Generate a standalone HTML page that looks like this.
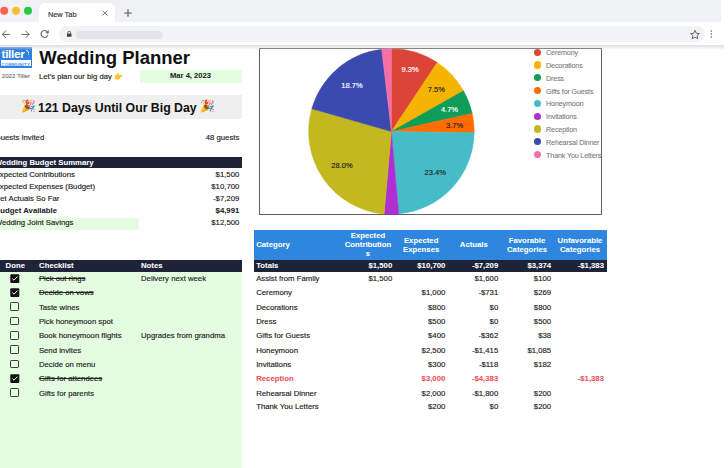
<!DOCTYPE html>
<html><head><meta charset="utf-8"><style>
html,body{margin:0;padding:0;width:728px;height:468px;overflow:hidden;background:#fff;position:relative;font-family:"Liberation Sans", sans-serif}
.t{position:absolute;line-height:0;white-space:nowrap;font-family:"Liberation Sans", sans-serif}
</style></head><body>
<div style="position:absolute;left:0px;top:0px;width:721px;height:22px;background:#eff1f3;"></div>
<svg style="position:absolute;left:0;top:0" width="40" height="22"><circle cx="4.2" cy="10.8" r="4" fill="#fe5f57"/><circle cx="16" cy="10.8" r="4" fill="#febc2e"/><circle cx="28" cy="10.8" r="4" fill="#28c840"/></svg>
<div style="position:absolute;left:39px;top:3px;width:76px;height:20px;background:#fff;border-radius:6px 6px 0 0;"></div>
<div class="t" style="left:47.9px;top:14.55px;font-size:7.4px;font-weight:400;color:#333;-webkit-text-stroke:0.15px #333;">New Tab</div>
<svg style="position:absolute;left:100px;top:8px" width="10" height="10"><path d="M2.6 2.6L7.4 7.4M7.4 2.6L2.6 7.4" stroke="#777" stroke-width="0.9"/></svg>
<svg style="position:absolute;left:122px;top:7px" width="12" height="12"><path d="M6 2.3V9.7M2.3 6H9.7" stroke="#555" stroke-width="1.1"/></svg>
<div style="position:absolute;left:0px;top:22px;width:724px;height:23px;background:#fff;"></div>
<svg style="position:absolute;left:0;top:28px" width="56" height="14"><path d="M2.3 6.4H10.1M6 2.7L2.3 6.4L6 10.1" stroke="#666" stroke-width="1" fill="none"/><path d="M21.4 6.4H29.1M25.4 2.7L29.1 6.4L25.4 10.1" stroke="#666" stroke-width="1" fill="none"/><path d="M47.9 6.9A3.5 3.5 0 1 1 47.2 3.7" stroke="#666" stroke-width="1.1" fill="none"/><path d="M48.7 2.0V5.2H45.5Z" fill="#555"/></svg>
<div style="position:absolute;left:59.2px;top:25.5px;width:645.8px;height:16.3px;background:#f1f3f4;border-radius:8.2px;"></div>
<svg style="position:absolute;left:65px;top:30px" width="8" height="8"><path d="M2.8 3.6V2.7A1.4 1.4 0 0 1 5.6 2.7V3.6" stroke="#444" stroke-width="0.85" fill="none"/><rect x="1.9" y="3.6" width="4.6" height="3.1" rx="0.4" fill="#444"/></svg>
<div style="position:absolute;left:76px;top:30.6px;width:87px;height:8px;background:#e2e4e7;border-radius:4px;"></div>
<svg style="position:absolute;left:689px;top:29px" width="12" height="11"><path d="M6 1.3L7.3 4.3L10.5 4.5L8.1 6.6L8.8 9.8L6 8.1L3.2 9.8L3.9 6.6L1.5 4.5L4.7 4.3Z" stroke="#666" stroke-width="0.95" fill="none" stroke-linejoin="round"/></svg>
<svg style="position:absolute;left:709px;top:29px" width="5" height="10"><circle cx="2.3" cy="1.9" r="0.75" fill="#555"/><circle cx="2.3" cy="4.9" r="0.75" fill="#555"/><circle cx="2.3" cy="8.1" r="0.75" fill="#555"/></svg>
<div style="position:absolute;left:0px;top:46.9px;width:31.7px;height:20.7px;background:#2f80df;"></div>
<div style="position:absolute;left:0.8px;top:60.3px;width:30.1px;height:6.1px;background:#fff;"></div>
<div class="t" style="left:1.5px;top:54.05px;font-size:11.8px;font-weight:700;color:#fff;letter-spacing:-0.3px;-webkit-text-stroke:0.05px #fff;">tiller</div>
<svg style="position:absolute;left:25px;top:48.5px" width="5" height="7"><path d="M1 1.2Q3.6 1.4 3.6 4.2" stroke="#fff" stroke-width="0.9" fill="none"/><circle cx="3.5" cy="5.3" r="0.5" fill="#fff"/></svg>
<div class="t" style="left:1.3px;top:64.55px;font-size:4.3px;font-weight:700;color:#3d8ae3;letter-spacing:0.25px;">COMMUNITY</div>
<div class="t" style="left:1.8px;top:75.55px;font-size:6.1px;font-weight:400;color:#777;-webkit-text-stroke:0.15px #777;">2022 Tiller</div>
<div class="t" style="left:39.3px;top:57.55px;font-size:18.5px;font-weight:700;color:#111;-webkit-text-stroke:0.05px #111;">Wedding Planner</div>
<div class="t" style="left:39px;top:76.55px;font-size:7.7px;font-weight:400;color:#222;-webkit-text-stroke:0.15px #222;">Let's plan our big day <span style="font-size:7px">👉</span></div>
<div style="position:absolute;left:140px;top:70px;width:102px;height:12.7px;background:#e4fde1;"></div>
<div class="t" style="left:190.5px;transform:translateX(-50%);top:75.55px;font-size:7.6px;font-weight:700;color:#222;-webkit-text-stroke:0.05px #222;">Mar 4, 2023</div>
<div style="position:absolute;left:0px;top:95px;width:242px;height:23.5px;background:#efefef;"></div>
<div class="t" style="left:20.6px;top:106.05px;font-size:11.8px;font-weight:400;color:#222;-webkit-text-stroke:0.15px #222;">🎉</div>
<div class="t" style="left:38.1px;top:108.05px;font-size:12.3px;font-weight:700;color:#111;-webkit-text-stroke:0.05px #111;">121 Days Until Our Big Day</div>
<div class="t" style="left:199.5px;top:106.05px;font-size:11.8px;font-weight:400;color:#222;-webkit-text-stroke:0.15px #222;">🎉</div>
<div class="t" style="left:-5.3px;top:137.55px;font-size:7.75px;font-weight:400;color:#222;-webkit-text-stroke:0.15px #222;">Guests Invited</div>
<div class="t" style="right:488.7px;top:137.55px;font-size:7.75px;font-weight:400;color:#222;-webkit-text-stroke:0.15px #222;">48 guests</div>
<div style="position:absolute;left:0px;top:157px;width:242px;height:11px;background:#1e2338;"></div>
<div class="t" style="left:-5.3px;top:162.55px;font-size:7.75px;font-weight:700;color:#fff;-webkit-text-stroke:0.05px #fff;">Wedding Budget Summary</div>
<div style="position:absolute;left:0px;top:218px;width:139px;height:12px;background:#e4fde1;"></div>
<div class="t" style="left:-5.3px;top:174.55px;font-size:7.75px;font-weight:400;color:#222;-webkit-text-stroke:0.15px #222;">Expected Contributions</div>
<div class="t" style="right:488.7px;top:174.55px;font-size:7.75px;font-weight:400;color:#222;-webkit-text-stroke:0.15px #222;">$1,500</div>
<div class="t" style="left:-5.3px;top:186.55px;font-size:7.75px;font-weight:400;color:#222;-webkit-text-stroke:0.15px #222;">Expected Expenses (Budget)</div>
<div class="t" style="right:488.7px;top:186.55px;font-size:7.75px;font-weight:400;color:#222;-webkit-text-stroke:0.15px #222;">$10,700</div>
<div class="t" style="left:-5.3px;top:198.55px;font-size:7.75px;font-weight:400;color:#222;-webkit-text-stroke:0.15px #222;">Net Actuals So Far</div>
<div class="t" style="right:488.7px;top:198.55px;font-size:7.75px;font-weight:400;color:#222;-webkit-text-stroke:0.15px #222;">-$7,209</div>
<div class="t" style="left:-5.3px;top:210.55px;font-size:7.75px;font-weight:700;color:#222;-webkit-text-stroke:0.05px #222;">Budget Available</div>
<div class="t" style="right:488.7px;top:210.55px;font-size:7.75px;font-weight:700;color:#222;-webkit-text-stroke:0.05px #222;">$4,991</div>
<div class="t" style="left:-5.3px;top:222.55px;font-size:7.75px;font-weight:400;color:#222;-webkit-text-stroke:0.15px #222;">Wedding Joint Savings</div>
<div class="t" style="right:488.7px;top:222.55px;font-size:7.75px;font-weight:400;color:#222;-webkit-text-stroke:0.15px #222;">$12,500</div>
<div style="position:absolute;left:0px;top:272px;width:242px;height:196px;background:#e4fde1;"></div>
<div style="position:absolute;left:0px;top:260px;width:242px;height:12px;background:#1e2338;"></div>
<div class="t" style="left:15.3px;transform:translateX(-50%);top:265.55px;font-size:7.75px;font-weight:700;color:#fff;-webkit-text-stroke:0.05px #fff;">Done</div>
<div class="t" style="left:39.1px;top:265.55px;font-size:7.75px;font-weight:700;color:#fff;-webkit-text-stroke:0.05px #fff;">Checklist</div>
<div class="t" style="left:141px;top:265.55px;font-size:7.75px;font-weight:700;color:#fff;-webkit-text-stroke:0.05px #fff;">Notes</div>
<svg style="position:absolute;left:10px;top:273.60px" width="10" height="10"><rect x="0.3" y="0.2" width="9" height="8.7" rx="1" fill="#111"/><path d="M2.3 4.5L4.0 6.2L7.4 2.6" stroke="#fff" stroke-width="0.95" fill="none"/></svg>
<div class="t" style="left:38.9px;top:278.55px;font-size:7.75px;font-weight:400;color:#222;text-decoration:line-through;-webkit-text-stroke:0.15px #222;">Pick out rings</div>
<div class="t" style="left:141px;top:278.55px;font-size:7.75px;font-weight:400;color:#222;-webkit-text-stroke:0.15px #222;">Delivery next week</div>
<svg style="position:absolute;left:10px;top:287.90px" width="10" height="10"><rect x="0.3" y="0.2" width="9" height="8.7" rx="1" fill="#111"/><path d="M2.3 4.5L4.0 6.2L7.4 2.6" stroke="#fff" stroke-width="0.95" fill="none"/></svg>
<div class="t" style="left:38.9px;top:292.55px;font-size:7.75px;font-weight:400;color:#222;text-decoration:line-through;-webkit-text-stroke:0.15px #222;">Decide on vows</div>
<div style="position:absolute;left:10.3px;top:302.40px;width:6.6px;height:6.6px;border:1.2px solid #3a3a3a;border-radius:1.2px"></div>
<div class="t" style="left:38.9px;top:307.55px;font-size:7.75px;font-weight:400;color:#222;-webkit-text-stroke:0.15px #222;">Taste wines</div>
<div style="position:absolute;left:10.3px;top:316.70px;width:6.6px;height:6.6px;border:1.2px solid #3a3a3a;border-radius:1.2px"></div>
<div class="t" style="left:38.9px;top:321.55px;font-size:7.75px;font-weight:400;color:#222;-webkit-text-stroke:0.15px #222;">Pick honeymoon spot</div>
<div style="position:absolute;left:10.3px;top:331.00px;width:6.6px;height:6.6px;border:1.2px solid #3a3a3a;border-radius:1.2px"></div>
<div class="t" style="left:38.9px;top:335.55px;font-size:7.75px;font-weight:400;color:#222;-webkit-text-stroke:0.15px #222;">Book honeymoon flights</div>
<div class="t" style="left:141px;top:335.55px;font-size:7.75px;font-weight:400;color:#222;-webkit-text-stroke:0.15px #222;">Upgrades from grandma</div>
<div style="position:absolute;left:10.3px;top:345.30px;width:6.6px;height:6.6px;border:1.2px solid #3a3a3a;border-radius:1.2px"></div>
<div class="t" style="left:38.9px;top:350.55px;font-size:7.75px;font-weight:400;color:#222;-webkit-text-stroke:0.15px #222;">Send invites</div>
<div style="position:absolute;left:10.3px;top:359.60px;width:6.6px;height:6.6px;border:1.2px solid #3a3a3a;border-radius:1.2px"></div>
<div class="t" style="left:38.9px;top:364.55px;font-size:7.75px;font-weight:400;color:#222;-webkit-text-stroke:0.15px #222;">Decide on menu</div>
<svg style="position:absolute;left:10px;top:373.70px" width="10" height="10"><rect x="0.3" y="0.2" width="9" height="8.7" rx="1" fill="#111"/><path d="M2.3 4.5L4.0 6.2L7.4 2.6" stroke="#fff" stroke-width="0.95" fill="none"/></svg>
<div class="t" style="left:38.9px;top:378.55px;font-size:7.75px;font-weight:400;color:#222;text-decoration:line-through;-webkit-text-stroke:0.15px #222;">Gifts for attendees</div>
<div style="position:absolute;left:10.3px;top:388.20px;width:6.6px;height:6.6px;border:1.2px solid #3a3a3a;border-radius:1.2px"></div>
<div class="t" style="left:38.9px;top:393.55px;font-size:7.75px;font-weight:400;color:#222;-webkit-text-stroke:0.15px #222;">Gifts for parents</div>
<div style="position:absolute;left:259px;top:48px;width:341px;height:165px;border:1px solid #5e5e5e;background:#fff"></div>
<svg style="position:absolute;left:0;top:0" width="728" height="468"><path d="M391.4 131.5L391.40 48.70A82.8 82.8 0 0 1 437.27 62.57Z" fill="#db4437" stroke="#db4437" stroke-width="0.5" stroke-linejoin="round"/><path d="M391.4 131.5L437.27 62.57A82.8 82.8 0 0 1 463.51 90.80Z" fill="#f4b400" stroke="#f4b400" stroke-width="0.5" stroke-linejoin="round"/><path d="M391.4 131.5L463.51 90.80A82.8 82.8 0 0 1 472.20 113.41Z" fill="#0f9d58" stroke="#0f9d58" stroke-width="0.5" stroke-linejoin="round"/><path d="M391.4 131.5L472.20 113.41A82.8 82.8 0 0 1 474.19 132.72Z" fill="#ff6d00" stroke="#ff6d00" stroke-width="0.5" stroke-linejoin="round"/><path d="M391.4 131.5L474.19 132.72A82.8 82.8 0 0 1 398.68 213.98Z" fill="#46bdc6" stroke="#46bdc6" stroke-width="0.5" stroke-linejoin="round"/><path d="M391.4 131.5L398.68 213.98A82.8 82.8 0 0 1 384.12 213.98Z" fill="#b02fd0" stroke="#b02fd0" stroke-width="0.5" stroke-linejoin="round"/><path d="M391.4 131.5L384.12 213.98A82.8 82.8 0 0 1 311.80 108.70Z" fill="#c4b820" stroke="#c4b820" stroke-width="0.5" stroke-linejoin="round"/><path d="M391.4 131.5L311.80 108.70A82.8 82.8 0 0 1 381.70 49.27Z" fill="#3b4aae" stroke="#3b4aae" stroke-width="0.5" stroke-linejoin="round"/><path d="M391.4 131.5L381.70 49.27A82.8 82.8 0 0 1 391.40 48.70Z" fill="#f56ea5" stroke="#f56ea5" stroke-width="0.5" stroke-linejoin="round"/></svg>
<div class="t" style="left:410.1px;transform:translateX(-50%);top:69.55px;font-size:7.5px;font-weight:400;color:#fff;-webkit-text-stroke:0.15px #fff;">9.3%</div>
<div class="t" style="left:436.4px;transform:translateX(-50%);top:89.55px;font-size:7.5px;font-weight:400;color:#222;-webkit-text-stroke:0.15px #222;">7.5%</div>
<div class="t" style="left:449.5px;transform:translateX(-50%);top:109.55px;font-size:7.5px;font-weight:400;color:#fff;-webkit-text-stroke:0.15px #fff;">4.7%</div>
<div class="t" style="left:454.6px;transform:translateX(-50%);top:125.55px;font-size:7.5px;font-weight:400;color:#222;-webkit-text-stroke:0.15px #222;">3.7%</div>
<div class="t" style="left:435.2px;transform:translateX(-50%);top:172.55px;font-size:7.5px;font-weight:400;color:#222;-webkit-text-stroke:0.15px #222;">23.4%</div>
<div class="t" style="left:342px;transform:translateX(-50%);top:165.55px;font-size:7.5px;font-weight:400;color:#222;-webkit-text-stroke:0.15px #222;">28.0%</div>
<div class="t" style="left:352px;transform:translateX(-50%);top:85.55px;font-size:7.5px;font-weight:400;color:#fff;-webkit-text-stroke:0.15px #fff;">18.7%</div>
<div style="position:absolute;left:533.70px;top:48.60px;width:7.2px;height:7.2px;border-radius:50%;background:#db4437"></div>
<div class="t" style="left:546.1px;top:52.55px;font-size:7.2px;font-weight:400;color:#757575;letter-spacing:-0.17px;-webkit-text-stroke:0.06px #757575;">Ceremony</div>
<div style="position:absolute;left:533.70px;top:61.40px;width:7.2px;height:7.2px;border-radius:50%;background:#f4b400"></div>
<div class="t" style="left:546.1px;top:65.55px;font-size:7.2px;font-weight:400;color:#757575;letter-spacing:-0.17px;-webkit-text-stroke:0.06px #757575;">Decorations</div>
<div style="position:absolute;left:533.70px;top:74.20px;width:7.2px;height:7.2px;border-radius:50%;background:#0f9d58"></div>
<div class="t" style="left:546.1px;top:78.55px;font-size:7.2px;font-weight:400;color:#757575;letter-spacing:-0.17px;-webkit-text-stroke:0.06px #757575;">Dress</div>
<div style="position:absolute;left:533.70px;top:87.00px;width:7.2px;height:7.2px;border-radius:50%;background:#ff6d00"></div>
<div class="t" style="left:546.1px;top:91.55px;font-size:7.2px;font-weight:400;color:#757575;letter-spacing:-0.17px;-webkit-text-stroke:0.06px #757575;">Gifts for Guests</div>
<div style="position:absolute;left:533.70px;top:99.80px;width:7.2px;height:7.2px;border-radius:50%;background:#46bdc6"></div>
<div class="t" style="left:546.1px;top:103.55px;font-size:7.2px;font-weight:400;color:#757575;letter-spacing:-0.17px;-webkit-text-stroke:0.06px #757575;">Honeymoon</div>
<div style="position:absolute;left:533.70px;top:112.60px;width:7.2px;height:7.2px;border-radius:50%;background:#b02fd0"></div>
<div class="t" style="left:546.1px;top:116.55px;font-size:7.2px;font-weight:400;color:#757575;letter-spacing:-0.17px;-webkit-text-stroke:0.06px #757575;">Invitations</div>
<div style="position:absolute;left:533.70px;top:125.40px;width:7.2px;height:7.2px;border-radius:50%;background:#c4b820"></div>
<div class="t" style="left:546.1px;top:129.55px;font-size:7.2px;font-weight:400;color:#757575;letter-spacing:-0.17px;-webkit-text-stroke:0.06px #757575;">Reception</div>
<div style="position:absolute;left:533.70px;top:138.20px;width:7.2px;height:7.2px;border-radius:50%;background:#3b4aae"></div>
<div class="t" style="left:546.1px;top:142.55px;font-size:7.2px;font-weight:400;color:#757575;letter-spacing:-0.17px;-webkit-text-stroke:0.06px #757575;">Rehearsal Dinner</div>
<div style="position:absolute;left:533.70px;top:151.00px;width:7.2px;height:7.2px;border-radius:50%;background:#f56ea5"></div>
<div class="t" style="left:546.1px;top:155.55px;font-size:7.2px;font-weight:400;color:#757575;letter-spacing:-0.17px;-webkit-text-stroke:0.06px #757575;">Thank You Letters</div>
<div style="position:absolute;left:254px;top:230px;width:353px;height:30px;background:#2e86de;"></div>
<div class="t" style="left:256.2px;top:244.55px;font-size:7.75px;font-weight:700;color:#fff;-webkit-text-stroke:0.05px #fff;">Category</div>
<div class="t" style="left:368px;transform:translateX(-50%);top:235.55px;font-size:7.75px;font-weight:700;color:#fff;-webkit-text-stroke:0.05px #fff;">Expected</div>
<div class="t" style="left:368px;transform:translateX(-50%);top:244.55px;font-size:7.75px;font-weight:700;color:#fff;-webkit-text-stroke:0.05px #fff;">Contribution</div>
<div class="t" style="left:368px;transform:translateX(-50%);top:253.55px;font-size:7.75px;font-weight:700;color:#fff;-webkit-text-stroke:0.05px #fff;">s</div>
<div class="t" style="left:421.2px;transform:translateX(-50%);top:240.55px;font-size:7.75px;font-weight:700;color:#fff;-webkit-text-stroke:0.05px #fff;">Expected</div>
<div class="t" style="left:421.2px;transform:translateX(-50%);top:249.55px;font-size:7.75px;font-weight:700;color:#fff;-webkit-text-stroke:0.05px #fff;">Expenses</div>
<div class="t" style="left:473.8px;transform:translateX(-50%);top:244.55px;font-size:7.75px;font-weight:700;color:#fff;-webkit-text-stroke:0.05px #fff;">Actuals</div>
<div class="t" style="left:527px;transform:translateX(-50%);top:240.55px;font-size:7.75px;font-weight:700;color:#fff;-webkit-text-stroke:0.05px #fff;">Favorable</div>
<div class="t" style="left:527px;transform:translateX(-50%);top:249.55px;font-size:7.75px;font-weight:700;color:#fff;-webkit-text-stroke:0.05px #fff;">Categories</div>
<div class="t" style="left:580px;transform:translateX(-50%);top:240.55px;font-size:7.75px;font-weight:700;color:#fff;-webkit-text-stroke:0.05px #fff;">Unfavorable</div>
<div class="t" style="left:580px;transform:translateX(-50%);top:249.55px;font-size:7.75px;font-weight:700;color:#fff;-webkit-text-stroke:0.05px #fff;">Categories</div>
<div style="position:absolute;left:254px;top:260px;width:353px;height:12px;background:#1e2338;"></div>
<div class="t" style="left:256.2px;top:265.55px;font-size:7.75px;font-weight:700;color:#fff;-webkit-text-stroke:0.05px #fff;">Totals</div>
<div class="t" style="right:335.8px;top:265.55px;font-size:7.75px;font-weight:700;color:#fff;-webkit-text-stroke:0.05px #fff;">$1,500</div>
<div class="t" style="right:282.7px;top:265.55px;font-size:7.75px;font-weight:700;color:#fff;-webkit-text-stroke:0.05px #fff;">$10,700</div>
<div class="t" style="right:229.8px;top:265.55px;font-size:7.75px;font-weight:700;color:#fff;-webkit-text-stroke:0.05px #fff;">-$7,209</div>
<div class="t" style="right:176.89999999999998px;top:265.55px;font-size:7.75px;font-weight:700;color:#fff;-webkit-text-stroke:0.05px #fff;">$3,374</div>
<div class="t" style="right:124px;top:265.55px;font-size:7.75px;font-weight:700;color:#fff;-webkit-text-stroke:0.05px #fff;">-$1,383</div>
<div class="t" style="left:256.2px;top:278.55px;font-size:7.75px;font-weight:400;color:#222;-webkit-text-stroke:0.15px #222;">Assist from Family</div>
<div class="t" style="right:335.8px;top:278.55px;font-size:7.75px;font-weight:400;color:#222;-webkit-text-stroke:0.15px #222;">$1,500</div>
<div class="t" style="right:229.8px;top:278.55px;font-size:7.75px;font-weight:400;color:#222;-webkit-text-stroke:0.15px #222;">$1,600</div>
<div class="t" style="right:176.89999999999998px;top:278.55px;font-size:7.75px;font-weight:400;color:#222;-webkit-text-stroke:0.15px #222;">$100</div>
<div class="t" style="left:256.2px;top:292.55px;font-size:7.75px;font-weight:400;color:#222;-webkit-text-stroke:0.15px #222;">Ceremony</div>
<div class="t" style="right:282.7px;top:292.55px;font-size:7.75px;font-weight:400;color:#222;-webkit-text-stroke:0.15px #222;">$1,000</div>
<div class="t" style="right:229.8px;top:292.55px;font-size:7.75px;font-weight:400;color:#222;-webkit-text-stroke:0.15px #222;">-$731</div>
<div class="t" style="right:176.89999999999998px;top:292.55px;font-size:7.75px;font-weight:400;color:#222;-webkit-text-stroke:0.15px #222;">$269</div>
<div class="t" style="left:256.2px;top:307.55px;font-size:7.75px;font-weight:400;color:#222;-webkit-text-stroke:0.15px #222;">Decorations</div>
<div class="t" style="right:282.7px;top:307.55px;font-size:7.75px;font-weight:400;color:#222;-webkit-text-stroke:0.15px #222;">$800</div>
<div class="t" style="right:229.8px;top:307.55px;font-size:7.75px;font-weight:400;color:#222;-webkit-text-stroke:0.15px #222;">$0</div>
<div class="t" style="right:176.89999999999998px;top:307.55px;font-size:7.75px;font-weight:400;color:#222;-webkit-text-stroke:0.15px #222;">$800</div>
<div class="t" style="left:256.2px;top:321.55px;font-size:7.75px;font-weight:400;color:#222;-webkit-text-stroke:0.15px #222;">Dress</div>
<div class="t" style="right:282.7px;top:321.55px;font-size:7.75px;font-weight:400;color:#222;-webkit-text-stroke:0.15px #222;">$500</div>
<div class="t" style="right:229.8px;top:321.55px;font-size:7.75px;font-weight:400;color:#222;-webkit-text-stroke:0.15px #222;">$0</div>
<div class="t" style="right:176.89999999999998px;top:321.55px;font-size:7.75px;font-weight:400;color:#222;-webkit-text-stroke:0.15px #222;">$500</div>
<div class="t" style="left:256.2px;top:335.55px;font-size:7.75px;font-weight:400;color:#222;-webkit-text-stroke:0.15px #222;">Gifts for Guests</div>
<div class="t" style="right:282.7px;top:335.55px;font-size:7.75px;font-weight:400;color:#222;-webkit-text-stroke:0.15px #222;">$400</div>
<div class="t" style="right:229.8px;top:335.55px;font-size:7.75px;font-weight:400;color:#222;-webkit-text-stroke:0.15px #222;">-$362</div>
<div class="t" style="right:176.89999999999998px;top:335.55px;font-size:7.75px;font-weight:400;color:#222;-webkit-text-stroke:0.15px #222;">$38</div>
<div class="t" style="left:256.2px;top:350.55px;font-size:7.75px;font-weight:400;color:#222;-webkit-text-stroke:0.15px #222;">Honeymoon</div>
<div class="t" style="right:282.7px;top:350.55px;font-size:7.75px;font-weight:400;color:#222;-webkit-text-stroke:0.15px #222;">$2,500</div>
<div class="t" style="right:229.8px;top:350.55px;font-size:7.75px;font-weight:400;color:#222;-webkit-text-stroke:0.15px #222;">-$1,415</div>
<div class="t" style="right:176.89999999999998px;top:350.55px;font-size:7.75px;font-weight:400;color:#222;-webkit-text-stroke:0.15px #222;">$1,085</div>
<div class="t" style="left:256.2px;top:364.55px;font-size:7.75px;font-weight:400;color:#222;-webkit-text-stroke:0.15px #222;">Invitations</div>
<div class="t" style="right:282.7px;top:364.55px;font-size:7.75px;font-weight:400;color:#222;-webkit-text-stroke:0.15px #222;">$300</div>
<div class="t" style="right:229.8px;top:364.55px;font-size:7.75px;font-weight:400;color:#222;-webkit-text-stroke:0.15px #222;">-$118</div>
<div class="t" style="right:176.89999999999998px;top:364.55px;font-size:7.75px;font-weight:400;color:#222;-webkit-text-stroke:0.15px #222;">$182</div>
<div class="t" style="left:256.2px;top:378.55px;font-size:7.75px;font-weight:700;color:#ef4f58;-webkit-text-stroke:0.05px #ef4f58;">Reception</div>
<div class="t" style="right:282.7px;top:378.55px;font-size:7.75px;font-weight:700;color:#ef4f58;-webkit-text-stroke:0.05px #ef4f58;">$3,000</div>
<div class="t" style="right:229.8px;top:378.55px;font-size:7.75px;font-weight:700;color:#ef4f58;-webkit-text-stroke:0.05px #ef4f58;">-$4,383</div>
<div class="t" style="right:124px;top:378.55px;font-size:7.75px;font-weight:700;color:#ef4f58;-webkit-text-stroke:0.05px #ef4f58;">-$1,383</div>
<div class="t" style="left:256.2px;top:393.55px;font-size:7.75px;font-weight:400;color:#222;-webkit-text-stroke:0.15px #222;">Rehearsal Dinner</div>
<div class="t" style="right:282.7px;top:393.55px;font-size:7.75px;font-weight:400;color:#222;-webkit-text-stroke:0.15px #222;">$2,000</div>
<div class="t" style="right:229.8px;top:393.55px;font-size:7.75px;font-weight:400;color:#222;-webkit-text-stroke:0.15px #222;">-$1,800</div>
<div class="t" style="right:176.89999999999998px;top:393.55px;font-size:7.75px;font-weight:400;color:#222;-webkit-text-stroke:0.15px #222;">$200</div>
<div class="t" style="left:256.2px;top:406.55px;font-size:7.75px;font-weight:400;color:#222;-webkit-text-stroke:0.15px #222;">Thank You Letters</div>
<div class="t" style="right:282.7px;top:406.55px;font-size:7.75px;font-weight:400;color:#222;-webkit-text-stroke:0.15px #222;">$200</div>
<div class="t" style="right:229.8px;top:406.55px;font-size:7.75px;font-weight:400;color:#222;-webkit-text-stroke:0.15px #222;">$0</div>
<div class="t" style="right:176.89999999999998px;top:406.55px;font-size:7.75px;font-weight:400;color:#222;-webkit-text-stroke:0.15px #222;">$200</div>
<div style="position:absolute;left:0;top:45px;width:724px;height:5px;background:linear-gradient(#dedede,rgba(235,235,235,0))"></div>
</body></html>
